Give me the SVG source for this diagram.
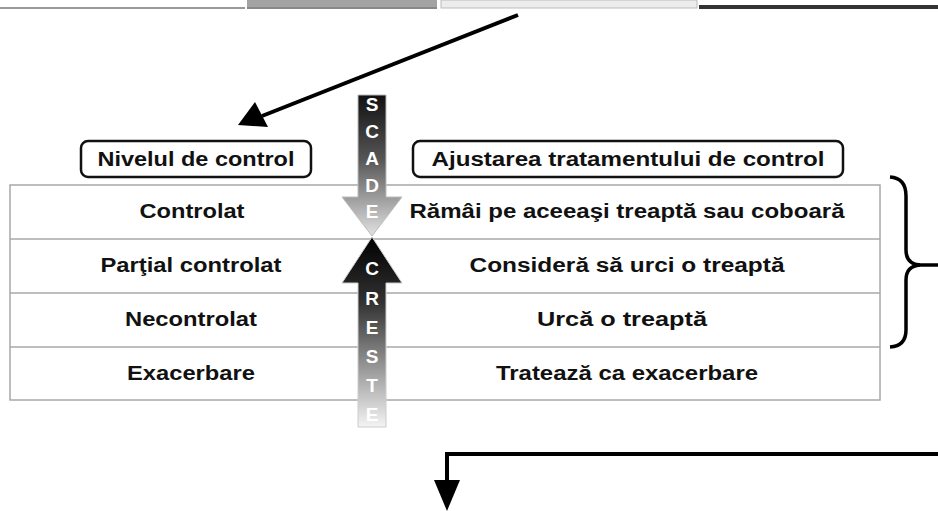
<svg xmlns="http://www.w3.org/2000/svg" width="938" height="511" viewBox="0 0 938 511">
<style>
.lbl{font-family:"Liberation Sans",Arial,sans-serif;font-weight:bold;font-size:20px;fill:#111;text-anchor:middle}
.arrl{font-family:"Liberation Sans",Arial,sans-serif;font-weight:bold;font-size:19px;fill:#fff;text-anchor:middle}
.box{fill:#fff;stroke:#111;stroke-width:2.5}
.grid{stroke:#a8a8a8;stroke-width:1.5;fill:none}
.conn{stroke:#000;stroke-width:4;fill:none}
</style>
<defs>
<linearGradient id="gDown" x1="0" y1="95" x2="0" y2="237" gradientUnits="userSpaceOnUse">
<stop offset="0" stop-color="#111"/><stop offset="0.45" stop-color="#555"/><stop offset="1" stop-color="#e4e4e4"/>
</linearGradient>
<linearGradient id="gUp" x1="0" y1="237" x2="0" y2="427" gradientUnits="userSpaceOnUse">
<stop offset="0" stop-color="#000"/><stop offset="0.35" stop-color="#333"/><stop offset="1" stop-color="#f4f4f4"/>
</linearGradient>
</defs>

<g id="topstrip">
<rect x="0" y="0" width="245" height="8" fill="#fff"/>
<line x1="0" y1="8" x2="245" y2="8" stroke="#999" stroke-width="2"/>
<rect x="247" y="0" width="190" height="9" fill="#a3a3a3"/>
<line x1="247" y1="8" x2="437" y2="8" stroke="#888" stroke-width="2"/>
<rect x="441" y="0" width="256" height="8" fill="#ececec" stroke="#bbb" stroke-width="1"/>
<rect x="699" y="0" width="239" height="9" fill="#fff"/>
<line x1="699" y1="7" x2="938" y2="7" stroke="#333" stroke-width="4"/>
</g>

<g id="table">
<rect x="10" y="185" width="870" height="215" fill="#fff" class="grid"/>
<line class="grid" x1="10" y1="239" x2="880" y2="239"/>
<line class="grid" x1="10" y1="293" x2="880" y2="293"/>
<line class="grid" x1="10" y1="347" x2="880" y2="347"/>
<text class="lbl" x="192" y="218" textLength="105" lengthAdjust="spacingAndGlyphs">Controlat</text>
<text class="lbl" x="191" y="272" textLength="181" lengthAdjust="spacingAndGlyphs">Parţial controlat</text>
<text class="lbl" x="191" y="326" textLength="132" lengthAdjust="spacingAndGlyphs">Necontrolat</text>
<text class="lbl" x="191" y="380" textLength="128" lengthAdjust="spacingAndGlyphs">Exacerbare</text>
<text class="lbl" x="627" y="218" textLength="435" lengthAdjust="spacingAndGlyphs">Rămâi pe aceeaşi treaptă sau coboară</text>
<text class="lbl" x="627" y="272" textLength="315" lengthAdjust="spacingAndGlyphs">Consideră să urci o treaptă</text>
<text class="lbl" x="622" y="326" textLength="170" lengthAdjust="spacingAndGlyphs">Urcă o treaptă</text>
<text class="lbl" x="627" y="380" textLength="262" lengthAdjust="spacingAndGlyphs">Tratează ca exacerbare</text>
</g>

<g id="hdr-nivel">
<rect class="box" x="81" y="141" width="230" height="36" rx="7"/>
<text class="lbl" x="196" y="166" textLength="197" lengthAdjust="spacingAndGlyphs">Nivelul de control</text>
</g>
<g id="hdr-ajustare">
<rect class="box" x="413" y="141" width="430" height="36" rx="7"/>
<text class="lbl" x="628" y="166" textLength="393" lengthAdjust="spacingAndGlyphs">Ajustarea tratamentului de control</text>
</g>

<g id="arrow-scade">
<path d="M358,95 H386 V197 H402 L372,236 L342,197 H358 Z" fill="url(#gDown)" stroke="#bbb" stroke-width="1"/>
<text class="arrl" x="372" y="111">S</text>
<text class="arrl" x="372" y="138">C</text>
<text class="arrl" x="372" y="165">A</text>
<text class="arrl" x="372" y="192">D</text>
<text class="arrl" x="372" y="218">E</text>
</g>
<g id="arrow-creste">
<path d="M372,237 L402,283 H386 V427 H358 V283 H342 Z" fill="url(#gUp)" stroke="#ccc" stroke-width="1"/>
<text class="arrl" x="372" y="275">C</text>
<text class="arrl" x="372" y="305">R</text>
<text class="arrl" x="372" y="334">E</text>
<text class="arrl" x="372" y="363">S</text>
<text class="arrl" x="372" y="392">T</text>
<text class="arrl" x="372" y="421">E</text>
</g>

<g id="brace">
<path d="M890,177 Q906,178 906,196 V250 Q906,264 920,265 Q906,266 906,280 V330 Q906,346 890,347" fill="none" stroke="#000" stroke-width="3.5"/>
<line x1="918" y1="265" x2="938" y2="265" stroke="#000" stroke-width="3.5"/>
</g>

<g id="connectors">
<line class="conn" x1="518" y1="15" x2="262" y2="116"/>
<path d="M238,125 L255,102 L268,127 Z" fill="#000"/>
<path class="conn" d="M938,454 H447 V482"/>
<path d="M434,480 L460,480 L447,511 Z" fill="#000"/>
</g>
</svg>
